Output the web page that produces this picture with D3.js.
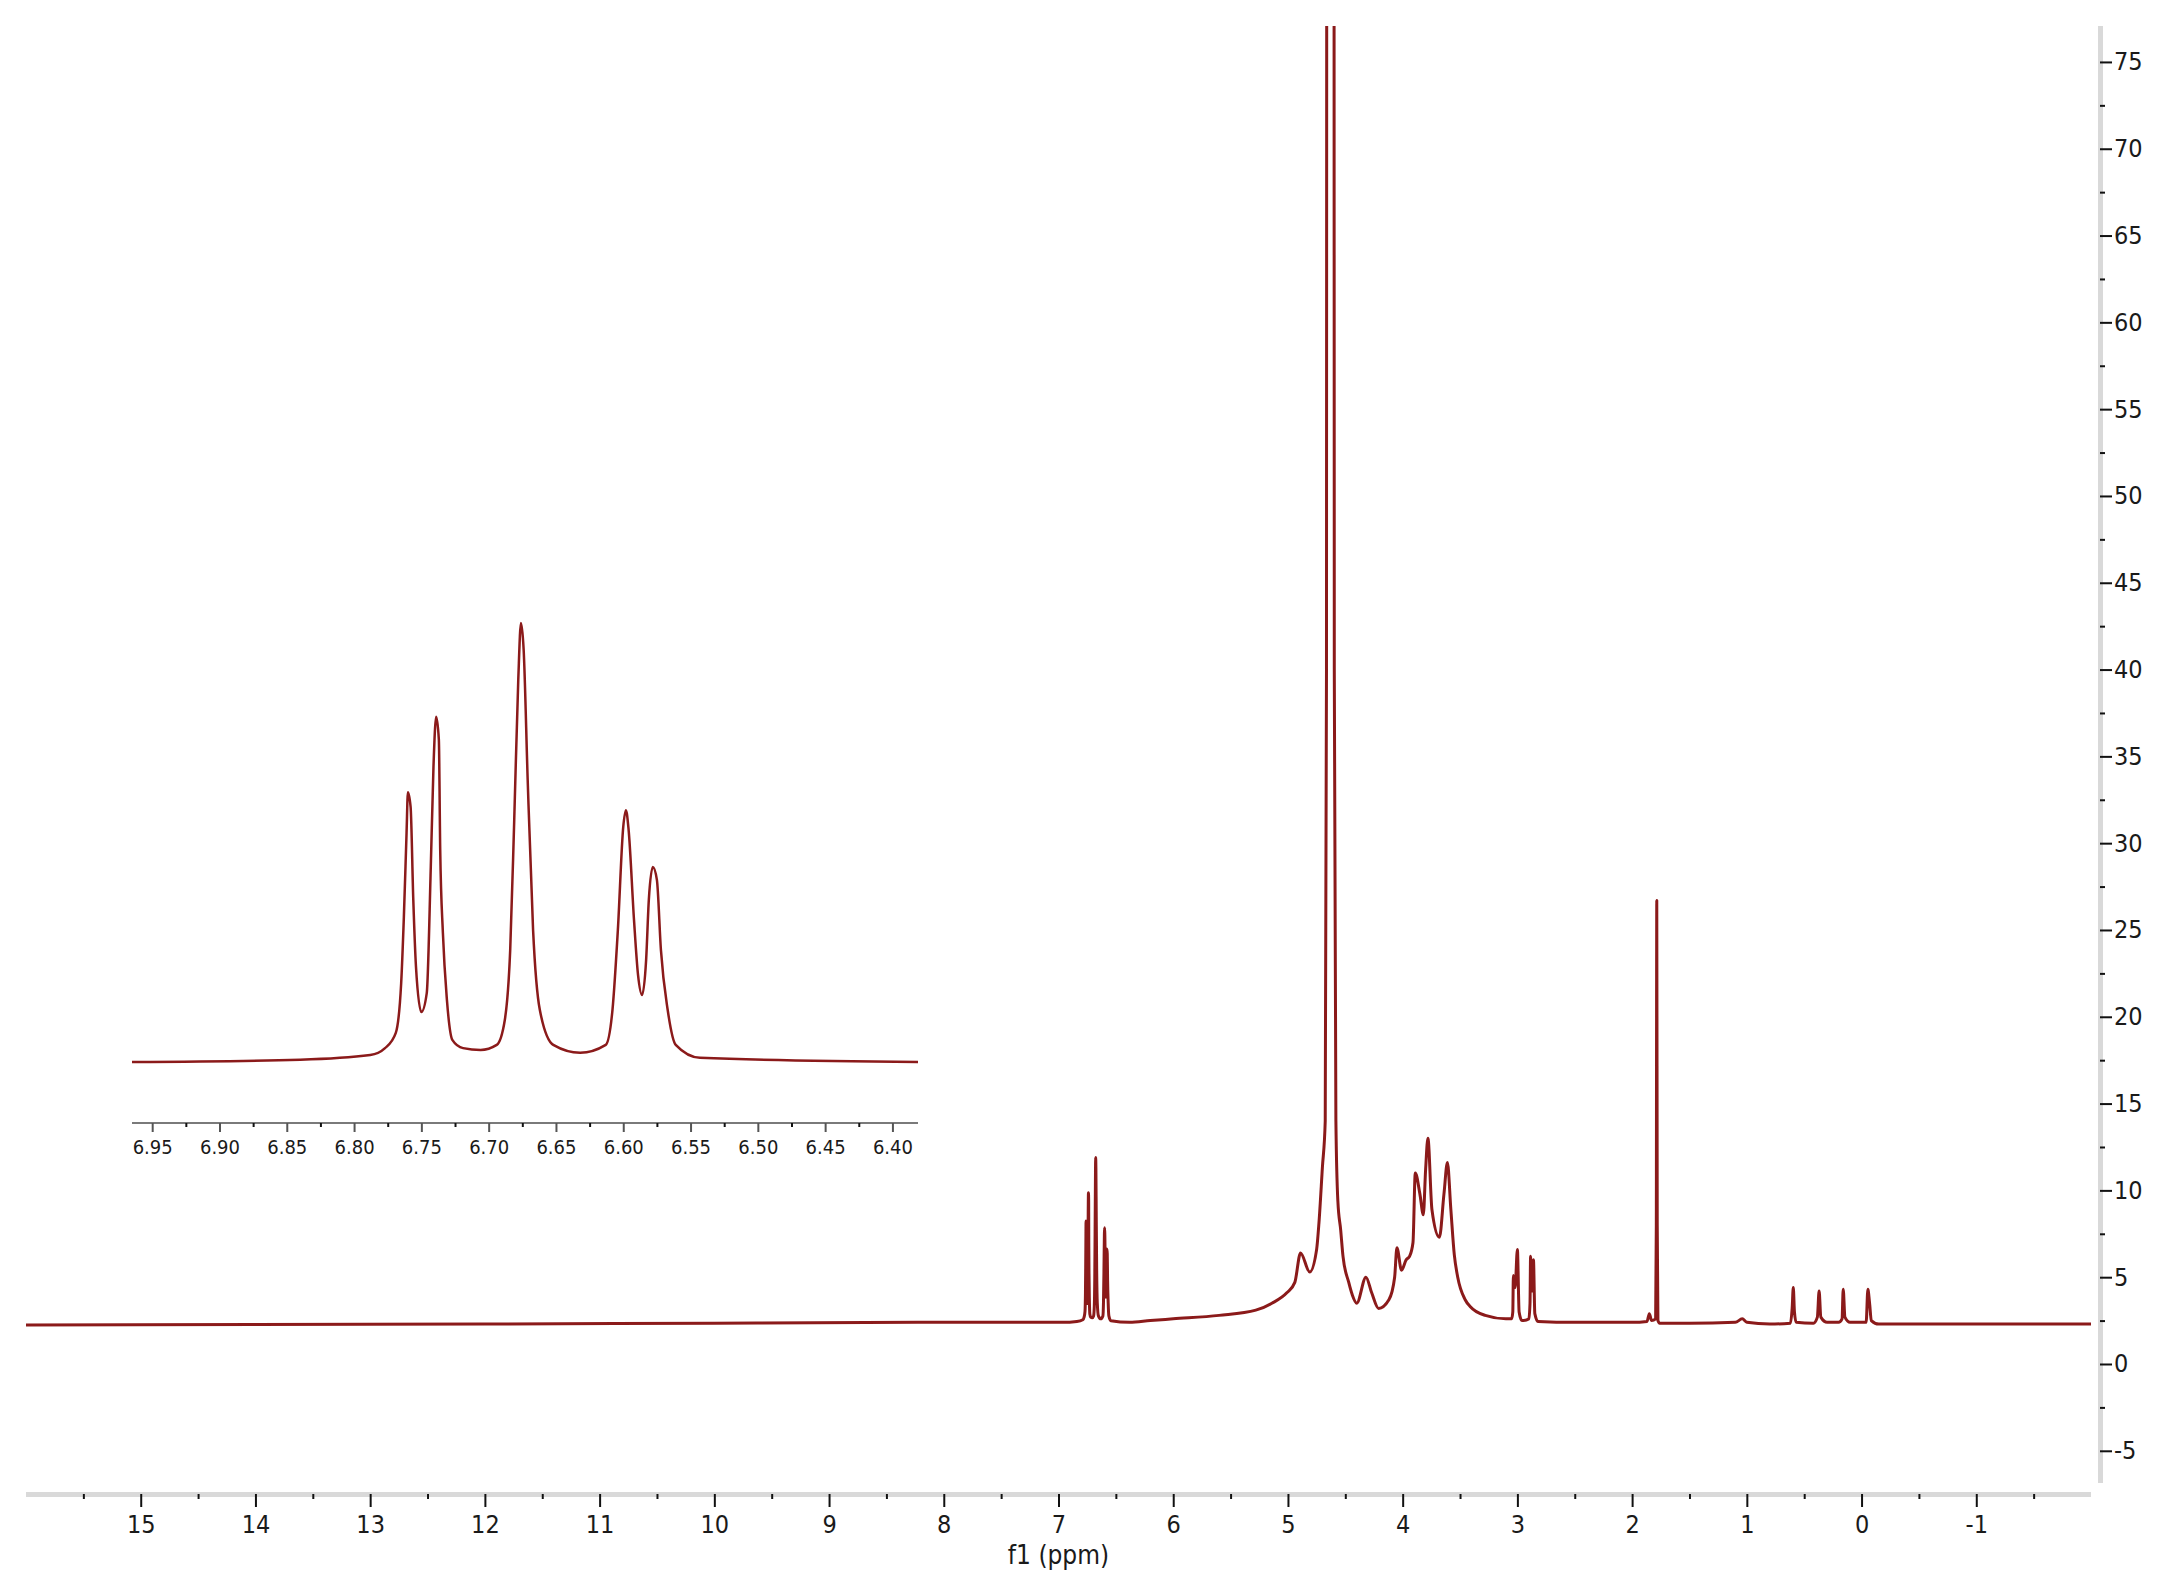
<!DOCTYPE html>
<html>
<head>
<meta charset="utf-8">
<script src="https://cdn.jsdelivr.net/npm/d3@7"></script>
<style>
  body { margin: 0; background: #fff; }
  svg { display: block; }
  text { font-family: 'DejaVu Sans Condensed', 'DejaVu Sans', sans-serif; font-stretch: condensed; fill: #1a1a1a; }
</style>
</head>
<body>
<svg width="2172" height="1594"></svg>
<script>
(function(d3) {
    'use strict';

    // tick labels
    const ppmTicks = [15, 14, 13, 12, 11, 10, 9, 8, 7, 6, 5, 4, 3, 2, 1, 0, -1];
    const ppmMinor = [15.5, 14.5, 13.5, 12.5, 11.5, 10.5, 9.5, 8.5, 7.5, 6.5, 5.5, 4.5, 3.5, 2.5, 1.5, 0.5, -0.5, -1.5];
    const intensityTicks = [-5, 0, 5, 10, 15, 20, 25, 30, 35, 40, 45, 50, 55, 60, 65, 70, 75];
    const intensityMinor = [-2.5, 2.5, 7.5, 12.5, 17.5, 22.5, 27.5, 32.5, 37.5, 42.5, 47.5, 52.5, 57.5, 62.5, 67.5, 72.5];
    const insetTicks = ['6.95', '6.90', '6.85', '6.80', '6.75', '6.70', '6.65', '6.60', '6.55', '6.50', '6.45', '6.40'];
    const insetMinor = [6.925, 6.875, 6.825, 6.775, 6.725, 6.675, 6.625, 6.575, 6.525, 6.475, 6.425];

    // spectrum trace, [ppm, intensity]
    const downfield = [
        [16.0, 2.25], [14.0, 2.28], [12.0, 2.3], [10.0, 2.35], [8.0, 2.4], [7.0, 2.4]
    ];
    const aromatic = [
        [6.965, 2.4], [6.84, 2.45], [6.788, 2.55], [6.777, 2.7], [6.769, 3.03], [6.765, 4.11],
        [6.763, 5.54], [6.761, 7.36], [6.760, 8.24], [6.758, 7.92], [6.756, 5.91], [6.754, 4.46],
        [6.750, 3.48], [6.746, 3.89], [6.743, 6.62], [6.741, 8.79], [6.739, 9.87], [6.737, 9.37],
        [6.736, 6.99], [6.734, 5.19], [6.731, 3.74], [6.727, 2.88], [6.719, 2.70], [6.706, 2.66],
        [6.694, 2.77], [6.688, 3.31], [6.684, 4.82], [6.681, 7.64], [6.678, 10.67], [6.676, 11.9],
        [6.674, 11.32], [6.671, 8.50], [6.667, 5.26], [6.662, 3.53], [6.652, 2.77], [6.632, 2.6],
        [6.613, 2.77], [6.608, 3.53], [6.604, 5.26], [6.600, 7.49], [6.598, 7.85], [6.596, 7.42],
        [6.592, 5.47], [6.589, 4.28], [6.586, 3.85], [6.583, 4.61], [6.581, 5.91], [6.578, 6.62],
        [6.575, 6.34], [6.572, 4.82], [6.567, 3.53], [6.561, 2.77], [6.543, 2.49], [6.381, 2.4]
    ];
    const anomeric = [
        [6.2, 2.5], [6.0, 2.6], [5.6, 2.8], [5.28, 3.1], [5.14, 3.5], [5.01, 4.1], [4.94, 4.7],
        [4.89, 6.4], [4.81, 5.3], [4.75, 6.6], [4.73, 8.1], [4.70, 11.3], [4.675, 14], [4.664, 40],
        [4.66, 120], [4.60, 120], [4.596, 40], [4.582, 14], [4.565, 9.4], [4.54, 7.7], [4.52, 6.2],
        [4.47, 4.7], [4.44, 4.0], [4.40, 3.5], [4.32, 5.0], [4.27, 4.1], [4.21, 3.2], [4.12, 3.7],
        [4.07, 5.0], [4.05, 6.7], [4.01, 5.4]
    ];
    const ring = [
        [3.97, 6.0], [3.94, 6.2], [3.91, 7.0], [3.89, 11.0], [3.85, 9.8], [3.82, 8.6], [3.80, 11.2],
        [3.78, 13.0], [3.745, 8.9], [3.68, 7.3], [3.64, 9.8], [3.61, 11.6], [3.58, 8.9], [3.55, 6.3],
        [3.52, 5.0], [3.455, 3.7], [3.41, 3.3], [3.28, 2.8], [3.10, 2.6]
    ];
    const methylene = [
        [3.05, 2.6], [3.04, 3.0], [3.035, 5.1], [3.02, 4.4], [3.00, 6.6], [2.985, 3.0], [2.96, 2.5],
        [2.90, 2.6], [2.89, 3.5], [2.885, 6.2], [2.872, 4.2], [2.86, 6.0], [2.848, 2.9], [2.82, 2.45]
    ];
    const upfield = [
        [2.5, 2.4], [2.0, 2.4], [1.87, 2.45], [1.85, 2.9], [1.83, 2.5], [1.795, 2.6], [1.789, 8],
        [1.785, 26.7], [1.781, 8], [1.775, 2.5], [1.76, 2.35], [1.5, 2.35], [1.1, 2.4], [1.04, 2.6],
        [1.0, 2.4], [0.8, 2.3], [0.62, 2.35], [0.605, 3.2], [0.595, 4.4], [0.585, 3.0], [0.57, 2.4],
        [0.42, 2.35], [0.385, 2.7], [0.37, 4.2], [0.355, 2.7], [0.3, 2.4], [0.2, 2.4], [0.17, 2.6],
        [0.16, 4.3], [0.145, 2.7], [0.1, 2.4], [-0.04, 2.4], [-0.055, 4.3], [-0.07, 3.5],
        [-0.085, 2.5], [-0.15, 2.3], [-1.0, 2.3], [-2.0, 2.3]
    ];

    const spectrum = [].concat(downfield, aromatic, anomeric, ring, methylene, upfield);

    const lineColor = '#8b1a1a';
    const svg = d3.select('svg');

    const x = d3.scaleLinear().domain([16, -2]).range([26, 2091]);
    const y = d3.scaleLinear().domain([-6.855, 77.07]).range([1483, 26]);

    const xi = d3.scaleLinear().domain([6.965, 6.381]).range([132, 918]);
    const yi = d3.scaleLinear().domain([2.4, 11.9]).range([1062, 623]);

    svg.append('defs').append('clipPath')
        .attr('id', 'plot-clip')
        .append('rect')
        .attr('x', 26).attr('y', 26)
        .attr('width', 2091 - 26).attr('height', 1483 - 26);

    // axis bars
    svg.append('rect')
        .attr('x', 26).attr('y', 1492)
        .attr('width', 2091 - 26).attr('height', 5)
        .attr('fill', '#d9d9d9');
    svg.append('rect')
        .attr('x', 2098).attr('y', 26)
        .attr('width', 5).attr('height', 1483 - 26)
        .attr('fill', '#d9d9d9');

    const styleAxis = (g, fontSize) => {
        g.select('.domain').remove();
        g.selectAll('.tick line').attr('stroke', '#111').attr('stroke-width', 2);
        g.selectAll('.tick text')
            .attr('fill', '#1a1a1a')
            .style('font-family', "'DejaVu Sans Condensed', 'DejaVu Sans', sans-serif")
            .attr('font-size', fontSize);
    };

    svg.append('g')
        .attr('transform', 'translate(0,1494)')
        .call(d3.axisBottom(x).tickValues(ppmTicks).tickSize(13).tickPadding(8).tickFormat(d => String(d)))
        .call(g => styleAxis(g, 25));
    svg.append('g')
        .attr('transform', 'translate(0,1494)')
        .call(d3.axisBottom(x).tickValues(ppmMinor).tickSize(5).tickFormat(''))
        .call(g => styleAxis(g, 25));

    svg.append('g')
        .attr('transform', 'translate(2100,0)')
        .call(d3.axisRight(y).tickValues(intensityTicks).tickSize(12).tickPadding(2).tickFormat(d => String(d)))
        .call(g => styleAxis(g, 25));
    svg.append('g')
        .attr('transform', 'translate(2100,0)')
        .call(d3.axisRight(y).tickValues(intensityMinor).tickSize(5).tickFormat(''))
        .call(g => styleAxis(g, 25));

    svg.append('text')
        .attr('x', (26 + 2091) / 2)
        .attr('y', 1564)
        .attr('text-anchor', 'middle')
        .attr('font-size', 26)
        .text('f1 (ppm)');

    const line = d3.line()
        .x(d => x(d[0]))
        .y(d => y(d[1]))
        .curve(d3.curveMonotoneX);

    svg.append('path')
        .attr('clip-path', 'url(#plot-clip)')
        .attr('d', line(spectrum.map(d => [-d[0], d[1]]).map(d => [-d[0], d[1]])))
        .attr('fill', 'none')
        .attr('stroke', lineColor)
        .attr('stroke-width', 3)
        .attr('stroke-linejoin', 'round');

    // inset: zoom on the aromatic multiplet
    const inset = svg.append('g');

    inset.append('line')
        .attr('x1', 132).attr('x2', 918)
        .attr('y1', 1123).attr('y2', 1123)
        .attr('stroke', '#7a7a7a')
        .attr('stroke-width', 2);

    inset.append('g')
        .attr('transform', 'translate(0,1123)')
        .call(d3.axisBottom(xi).tickValues(insetTicks.map(Number)).tickSize(9).tickPadding(8)
            .tickFormat((d, i) => insetTicks[i]))
        .call(g => styleAxis(g, 20))
        .call(g => g.selectAll('.tick line').attr('stroke', '#555'));
    inset.append('g')
        .attr('transform', 'translate(0,1123)')
        .call(d3.axisBottom(xi).tickValues(insetMinor).tickSize(4).tickFormat(''))
        .call(g => styleAxis(g, 20));

    const insetLine = d3.line()
        .x(d => xi(d[0]))
        .y(d => yi(d[1]))
        .curve(d3.curveMonotoneX);

    inset.append('path')
        .attr('d', insetLine(aromatic))
        .attr('fill', 'none')
        .attr('stroke', lineColor)
        .attr('stroke-width', 2.5)
        .attr('stroke-linejoin', 'round');

}(d3));
</script>
</body>
</html>
